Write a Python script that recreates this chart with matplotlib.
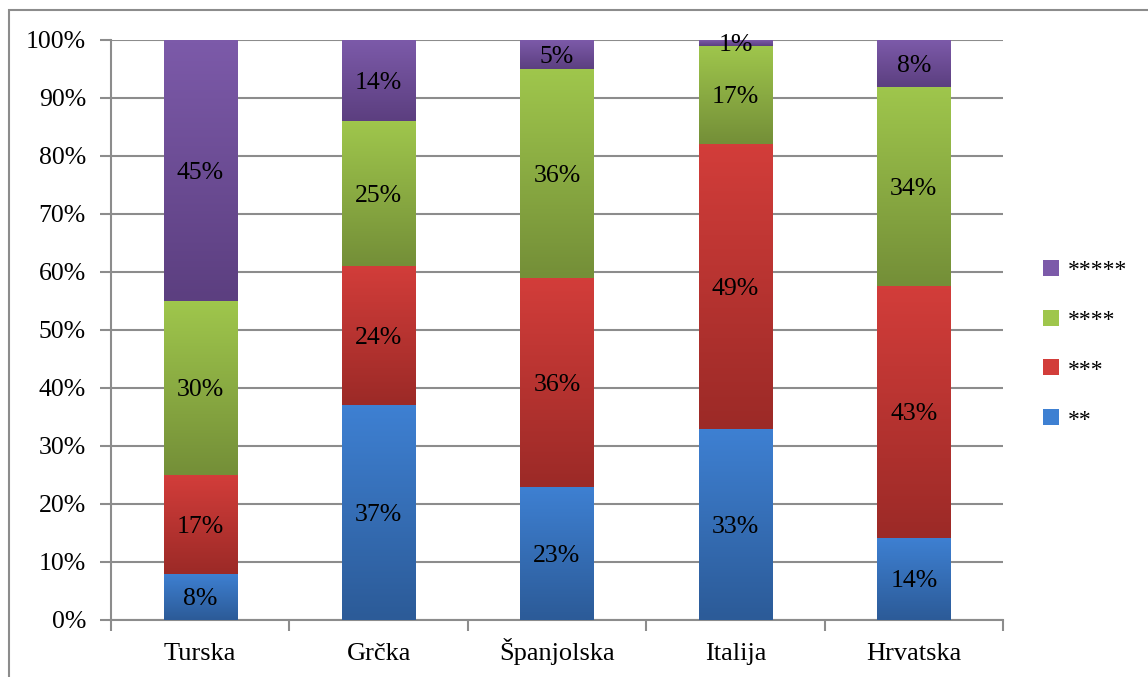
import numpy as np
import matplotlib
matplotlib.use('Agg')
import matplotlib.pyplot as plt
from matplotlib import ticker
from matplotlib.lines import Line2D
from matplotlib.patches import Rectangle

plt.rcParams['font.family'] = ['Liberation Serif', 'DejaVu Serif']

# Data
countries = ['Turska', 'Grčka', 'Španjolska', 'Italija', 'Hrvatska']
series    = ['**', '***', '****', '*****']
two_star   = [8, 37, 23, 33, 14]
three_star = [17, 24, 36, 49, 43]
four_star  = [30, 25, 36, 17, 34]
five_star  = [45, 14, 5, 1, 8]

# gradient colours (top, bottom) per series
grad = {
    '**':    ('#3e80d2', '#2c5b98'),
    '***':   ('#d23d3a', '#9c2a27'),
    '****':  ('#9fc64c', '#748f38'),
    '*****': ('#7c5aa9', '#5c3f80'),
}

vals = np.array([two_star, three_star, four_star, five_star], dtype=float)
pct = vals / vals.sum(axis=0) * 100

W, H = 1148, 677
fig = plt.figure(figsize=(W / 100, H / 100), dpi=100)

# outer frame (only left/top visible in the reference)
fig.patches.append(Rectangle((9 / W, -0.1), 1.2, 1 - 10 / H + 0.1, transform=fig.transFigure,
                             fill=False, ec='#8c8c8c', lw=1.5, zorder=0))

ax = fig.add_axes([111 / W, (H - 620) / H, (1003 - 111) / W, 580 / H])

x = np.arange(len(countries))
width = 0.41
bottom = np.zeros(len(countries))
for i, name in enumerate(series):
    top_c, bot_c = grad[name]
    bars = ax.bar(x, pct[i], width, bottom=bottom, color=top_c, lw=0, zorder=3)
    cmap = matplotlib.colors.LinearSegmentedColormap.from_list(name, [bot_c, top_c])
    for j, b in enumerate(bars):
        y0, y1 = bottom[j], bottom[j] + pct[i][j]
        im = ax.imshow(np.linspace(0, 1, 64).reshape(-1, 1), cmap=cmap, origin='lower',
                       extent=[x[j] - width / 2, x[j] + width / 2, y0, y1],
                       aspect='auto', zorder=4, interpolation='bilinear')
        im.set_clip_path(b)
        ax.text(x[j], (y0 + y1) / 2 - 0.4, f'{vals[i][j]:.0f}%', ha='center', va='center',
                fontsize=18.5, color='black', zorder=6)
    bottom += pct[i]

ax.set_xlim(-0.5, len(countries) - 0.5)
ax.set_ylim(0, 100)
ax.set_aspect('auto')

ax.yaxis.set_major_locator(ticker.MultipleLocator(10))
ax.yaxis.set_major_formatter(ticker.StrMethodFormatter('{x:.0f}%'))
ax.set_xticks(x)
ax.set_xticklabels(countries, va='baseline')
ax.xaxis.set_minor_locator(ticker.FixedLocator(np.arange(-0.5, len(countries), 1)))
ax.tick_params(axis='x', which='major', length=0, pad=29, labelsize=19)
ax.tick_params(axis='x', which='minor', length=8, width=1.5, color='#8c8c8c', direction='out')
ax.tick_params(axis='y', length=8, width=1.5, color='#8c8c8c', labelsize=18.5, pad=10)

ax.grid(which='major', axis='y', color='#8c8c8c', lw=1.5, zorder=0)
for s in ['top', 'right']:
    ax.spines[s].set_visible(False)
for s in ['left', 'bottom']:
    ax.spines[s].set_color('#8c8c8c')
    ax.spines[s].set_linewidth(1.5)

handles = [Line2D([], [], ls='none', marker='s', markersize=11, color=grad[s][0],
                  markeredgewidth=0) for s in series[::-1]]
fig.legend(handles, series[::-1], loc='center left', bbox_to_anchor=(1042 / W, 1 - 345 / H),
           frameon=False, fontsize=17, labelspacing=1.2, handlelength=0.8, handletextpad=0.3,
           borderpad=0, borderaxespad=0)

fig.savefig('out.png', dpi=100)
